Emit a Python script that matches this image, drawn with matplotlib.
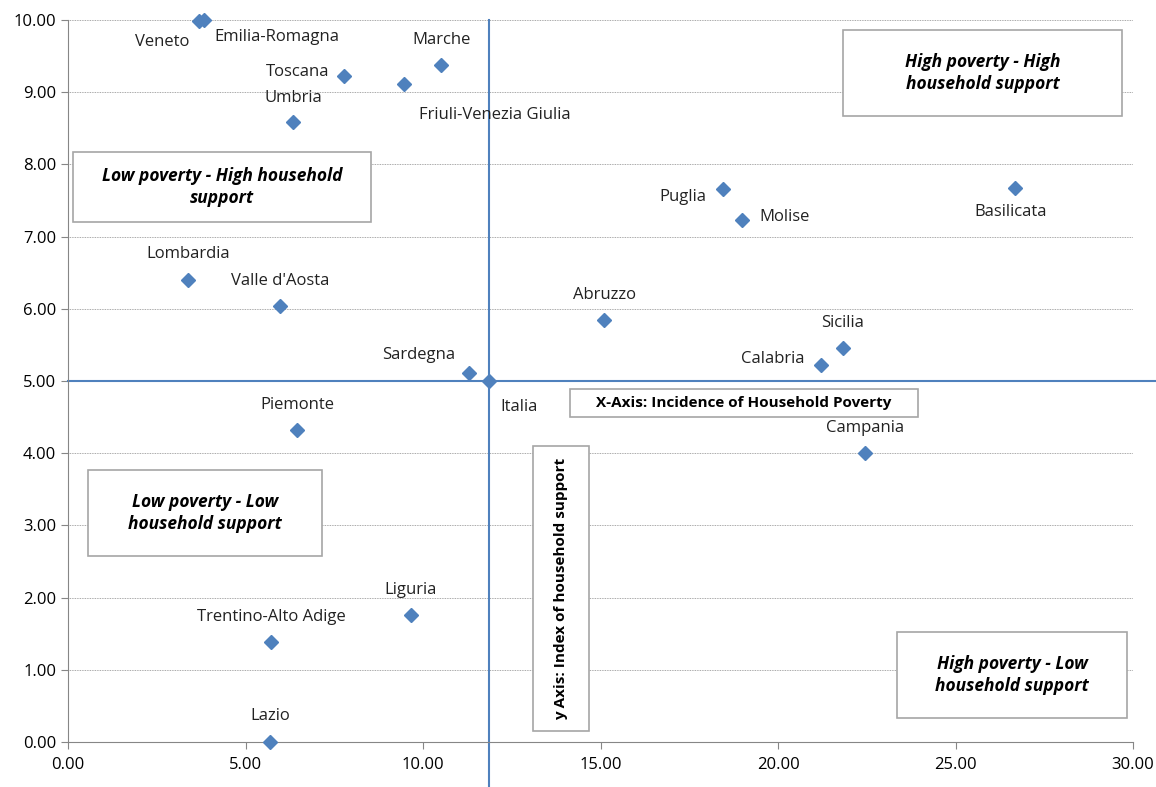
import matplotlib
matplotlib.use('Agg')
import matplotlib.pyplot as plt
from matplotlib.patches import Rectangle
from matplotlib.ticker import FormatStrFormatter

plt.rcParams['font.family'] = ['Open Sans', 'DejaVu Sans']

regions = ['Veneto', 'Emilia-Romagna', 'Toscana', 'Friuli-Venezia Giulia', 'Marche',
           'Umbria', 'Puglia', 'Molise', 'Basilicata', 'Lombardia', "Valle d'Aosta",
           'Abruzzo', 'Sicilia', 'Calabria', 'Sardegna', 'Italia', 'Piemonte',
           'Campania', 'Liguria', 'Trentino-Alto Adige', 'Lazio']
poverty = [3.69, 3.83, 7.77, 9.46, 10.51, 6.34, 18.45, 18.99, 26.68, 3.38, 5.97,
           15.10, 21.83, 21.21, 11.30, 11.86, 6.45, 22.45, 9.66, 5.72, 5.69]
support = [9.99, 10.00, 9.22, 9.11, 9.38, 8.59, 7.66, 7.23, 7.67, 6.40, 6.04,
           5.84, 5.46, 5.22, 5.11, 5.00, 4.32, 4.00, 1.76, 1.39, 0.00]
# label offsets in pixels (dx right, dy down)
offsets = [(-37, 21), (73, 17), (-46, -4), (91, 31), (0, -25),
           (0, -24), (-40, 8), (42, -3), (-5, 24), (0, -26), (0, -25),
           (0, -25), (0, -25), (-48, -6), (-50, -18), (30, 26), (0, -25),
           (0, -25), (0, -25), (0, -25), (0, -26)]

blue = '#4F81BD'
W, H = 1156, 787
fig = plt.figure(figsize=(W / 100, H / 100), dpi=100)
ax = fig.add_axes([68 / W, 1 - 742 / H, (1133 - 68) / W, (742 - 20) / H])

ax.set_xlim(0, 30)
ax.set_ylim(0, 10)
ax.set_xticks(range(0, 31, 5))
ax.set_yticks(range(0, 11, 1))
ax.xaxis.set_major_formatter(FormatStrFormatter('%.2f'))
ax.yaxis.set_major_formatter(FormatStrFormatter('%.2f'))
ax.tick_params(labelsize=12, color='#868686', length=5, width=0.8)
ax.tick_params(axis='x', pad=6)
for s in ['top', 'right']:
  ax.spines[s].set_visible(False)
for s in ['left', 'bottom']:
  ax.spines[s].set_color('#868686')
ax.yaxis.grid(True, linestyle=(0, (1, 1)), color='#8c8c8c', linewidth=0.6)
ax.set_axisbelow(True)

i = regions.index('Italia')
ax.axvline(poverty[i], ymin=-0.07, ymax=1, color=blue, linewidth=1.5, clip_on=False, zorder=2)
ax.axhline(support[i], xmin=0, xmax=1.03, color=blue, linewidth=1.5, clip_on=False, zorder=2)

ax.plot(poverty, support, linestyle='none', marker='D', markersize=7, color=blue,
        clip_on=False, zorder=4)

for name, x, y, (dx, dy) in zip(regions, poverty, support, offsets):
  ax.annotate(name, (x, y), xytext=(dx * 0.72, -dy * 0.72), textcoords='offset points',
              ha='center', va='center', fontsize=12, color='#222222')

# quadrant / axis boxes: (x0, y0, x1, y1) in pixels, text, italic, rotation, size
boxes = [
  ((843, 30, 1122, 116), 'High poverty - High\nhousehold support', 'italic', 0, 12.5),
  ((73, 152, 371, 222), 'Low poverty - High household\nsupport', 'italic', 0, 12.5),
  ((88, 470, 322, 556), 'Low poverty - Low\nhousehold support', 'italic', 0, 12.5),
  ((897, 632, 1127, 718), 'High poverty - Low\nhousehold support', 'italic', 0, 12.5),
  ((570, 389, 918, 417), 'X-Axis: Incidence of Household Poverty', 'normal', 0, 11),
  ((533, 446, 589, 731), 'y Axis: Index of household support', 'normal', 90, 11),
]
for (x0, y0, x1, y1), txt, style, rot, size in boxes:
  fig.patches.append(Rectangle((x0 / W, 1 - y1 / H), (x1 - x0) / W, (y1 - y0) / H,
                               transform=fig.transFigure, facecolor='white',
                               edgecolor='#A6A6A6', linewidth=1.2, zorder=5))
  fig.text((x0 + x1) / 2 / W, 1 - (y0 + y1) / 2 / H, txt, ha='center', va='center',
           fontsize=size, fontweight='bold', fontstyle=style, rotation=rot,
           linespacing=1.3, zorder=6)

fig.savefig('out.png', dpi=100)
